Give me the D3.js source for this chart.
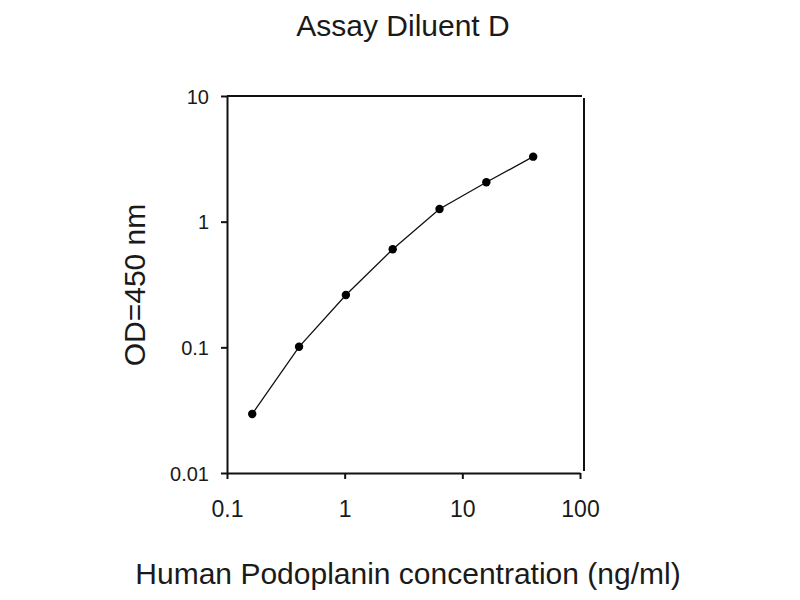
<!DOCTYPE html>
<html>
<head>
<meta charset="utf-8">
<script src="https://cdn.jsdelivr.net/npm/d3@7"></script>
<style>
  html, body { margin: 0; padding: 0; background: #fff; }
  svg { display: block; }
  text { font-family: "Liberation Sans", Arial, sans-serif; fill: #1a1a1a; }
</style>
</head>
<body>
<svg id="chart" width="800" height="600"></svg>
<script>
const concentration = [0.16384, 0.4096, 1.024, 2.56, 6.4, 16, 40];
const od450 = [0.0295, 0.101, 0.261, 0.603, 1.26, 2.06, 3.29];
const xTicks = [0.1, 1, 10, 100];
const yTicks = [0.01, 0.1, 1, 10];
const xTickLabels = ["0.1", "1", "10", "100"];
const yTickLabels = ["0.01", "0.1", "1", "10"];
const title = "Assay Diluent D";
const xTitle = "Human Podoplanin concentration (ng/ml)";
const yTitle = "OD=450 nm";

const svg = d3.select("#chart");
const mLeft = 227, mRight = 580, mTop = 96, mBottom = 473, borderRight = 584;

const x = d3.scaleLog().domain([0.1, 100]).range([mLeft, mRight]);
const y = d3.scaleLog().domain([0.01, 10]).range([mBottom, mTop]);

// frame: top and right lines
svg.append("line").attr("x1", mLeft).attr("x2", borderRight - 2).attr("y1", mTop).attr("y2", mTop)
  .attr("stroke", "#111").attr("stroke-width", 2);
svg.append("line").attr("x1", borderRight).attr("x2", borderRight).attr("y1", mTop + 2).attr("y2", mBottom - 2)
  .attr("stroke", "#111").attr("stroke-width", 2);

const xAxis = svg.append("g").attr("transform", `translate(0,${mBottom})`)
  .call(d3.axisBottom(x).tickValues(xTicks).tickSize(6).tickSizeOuter(0)
    .tickFormat((d, i) => xTickLabels[i]));
const yAxis = svg.append("g").attr("transform", `translate(${mLeft},0)`)
  .call(d3.axisLeft(y).tickValues(yTicks).tickSize(6).tickSizeOuter(0)
    .tickFormat((d, i) => yTickLabels[i]));

[xAxis, yAxis].forEach(g => {
  g.select(".domain").attr("stroke", "#111").attr("stroke-width", 2);
  g.selectAll(".tick line").attr("stroke", "#111").attr("stroke-width", 2);
  g.selectAll(".tick text").attr("fill", "#222")
    .style("font-family", '"Liberation Sans", Arial, sans-serif');
});
xAxis.selectAll(".tick text").attr("font-size", 23).attr("dy", "0").attr("y", 44);
yAxis.selectAll(".tick text").attr("font-size", 20).attr("x", -18).attr("dy", "0.35em");

const pts = concentration.map((c, i) => [c, od450[i]]);
svg.append("path").datum(pts)
  .attr("fill", "none").attr("stroke", "#111").attr("stroke-width", 1.3)
  .attr("d", d3.line().x(d => x(d[0])).y(d => y(d[1])));
svg.selectAll("circle.pt").data(pts).enter().append("circle")
  .attr("class", "pt").attr("cx", d => x(d[0])).attr("cy", d => y(d[1]))
  .attr("r", 4.2).attr("fill", "#000");

svg.append("text").attr("x", 403).attr("y", 36).attr("text-anchor", "middle")
  .attr("font-size", 30).text(title);
svg.append("text").attr("x", 408).attr("y", 584).attr("text-anchor", "middle")
  .attr("font-size", 30).text(xTitle);
svg.append("text").attr("transform", "translate(145,285) rotate(-90)").attr("text-anchor", "middle")
  .attr("font-size", 30).text(yTitle);
</script>
</body>
</html>
